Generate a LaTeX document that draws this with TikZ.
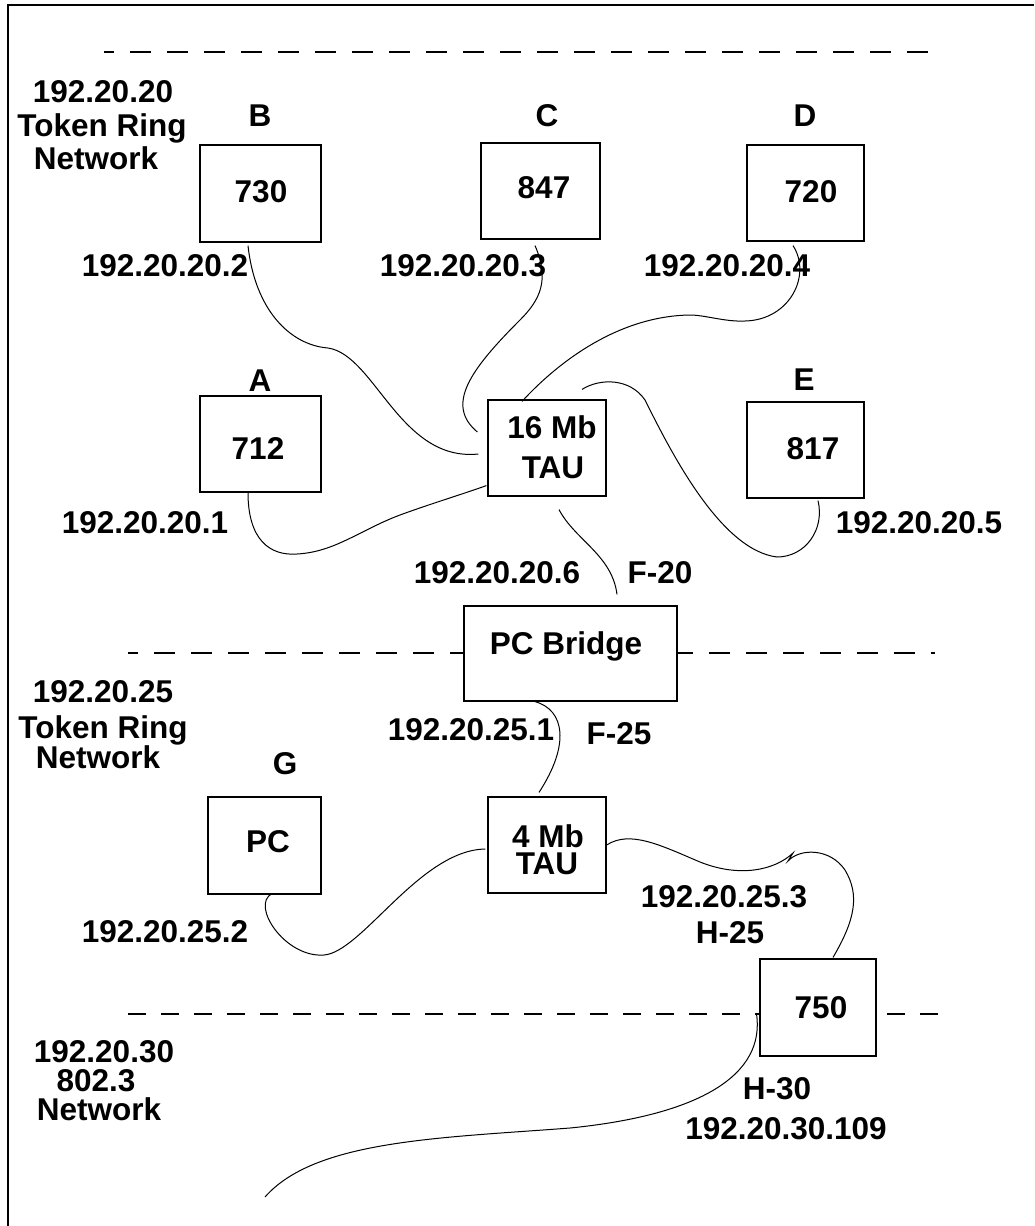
\documentclass[tikz,border=0pt]{standalone}
\usepackage{fontspec}
\setmainfont{Liberation Sans}
\begin{document}
\begin{tikzpicture}[x=1pt,y=-1pt,
  box/.style={draw, fill=white, line width=1.2pt, inner sep=0pt},
  lbl/.style={font=\bfseries\fontsize{31.5}{36}\selectfont, inner sep=0pt, text height=22.5pt, text depth=0pt},
  cable/.style={line width=1pt},
  seg/.style={line width=1.3pt, dash pattern=on 21pt off 16pt, dash phase=10.7pt},
  segb/.style={line width=1.3pt, dash pattern=on 18pt off 15pt}]
\useasboundingbox (0,0) rectangle (1034,1226);
% frame
\draw[line width=2pt] (1034,5) -- (8,5) -- (8,1226);
% segment separators
\draw[seg] (104,52) -- (935,52);
\draw[seg] (128,653) -- (935,653);
\draw[segb] (128,1014) -- (950,1014);
% boxes
\node[box, minimum width=121pt, minimum height=97pt] (B) at (260.5,193.5) {};
\node[box, minimum width=119pt, minimum height=96pt] (C) at (540.5,191) {};
\node[box, minimum width=117pt, minimum height=96pt] (D) at (805.5,193) {};
\node[box, minimum width=121pt, minimum height=96pt] (A) at (260.5,444) {};
\node[box, minimum width=118pt, minimum height=96pt] (T16) at (547,448) {};
\node[box, minimum width=117pt, minimum height=96pt] (E) at (805.5,450) {};
\node[box, minimum width=213pt, minimum height=95pt] (PCB) at (570.5,653.5) {};
\node[box, minimum width=113pt, minimum height=97pt] (G) at (264.5,845.5) {};
\node[box, minimum width=118pt, minimum height=96pt] (T4) at (547,845) {};
\node[box, minimum width=116pt, minimum height=97pt] (H) at (818,1007.5) {};
\coordinate (hend) at (265,1197);
% cables
\draw[cable] ([shift={(-12.5,3)}]B.south) .. controls (255,310) and (290,345) .. (328,348)
  .. controls (375,355) and (400,462) .. ([shift={(-9,6)}]T16.west);
\draw[cable] ([shift={(-5.5,6)}]C.south) .. controls (550,280) and (540,300) .. (520,320)
  .. controls (470,370) and (445,405) .. ([shift={(-10,-16)}]T16.west);
\draw[cable] ([shift={(-12.5,4)}]D.south) .. controls (812,275) and (790,320) .. (745,321)
  .. controls (725,322) and (705,315) .. (690,315)
  .. controls (620,316) and (560,360) .. ([shift={(-25,2)}]T16.north);
\draw[cable] ([shift={(35,-10)}]T16.north) .. controls (600,378) and (630,378) .. (645,400)
  .. controls (670,450) and (720,550) .. (777,557)
  .. controls (805,557) and (825,530) .. ([shift={(12.5,2)}]E.south);
\draw[cable] ([shift={(-12.5,0)}]A.south) .. controls (248,540) and (270,556) .. (297,554)
  .. controls (335,552) and (360,530) .. (400,515)
  .. controls (430,504) and (460,495) .. ([shift={(-1,-11)}]T16.south west);
\draw[cable] ([shift={(12,13)}]T16.south) .. controls (575,540) and (612,555) .. ([shift={(46.5,-11)}]PCB.north);
\draw[cable] ([shift={(-35.5,0)}]PCB.south) .. controls (565,710) and (570,745) .. ([shift={(-8,-4)}]T4.north);
\draw[cable] ([shift={(7.5,-1)}]G.south) .. controls (250,905) and (285,958) .. (324,955)
  .. controls (362,952) and (420,850) .. ([shift={(-2,4)}]T4.west);
\draw[cable] (T4.east) .. controls (630,830) and (660,845) .. (700,862)
  .. controls (740,878) and (775,870) .. (793,853) -- (788,861)
  .. controls (800,848) and (830,848) .. (845,870)
  .. controls (860,895) and (855,920) .. ([shift={(15,-1)}]H.north);
\draw[cable] ([shift={(-3,5.5)}]H.west) .. controls (766,1075) and (700,1115) .. (570,1128)
  .. controls (440,1138) and (315,1140) .. (hend);
% labels
\node[lbl] (n1a) at (103,91) {192.20.20};
\node[lbl] (n1b) at (102,125) {Token Ring};
\node[lbl] (n1c) at (96,158) {Network};
\node[lbl] (lB) at (260,115) {B};
\node[lbl] (lC) at (547,115) {C};
\node[lbl] (lD) at (805,115) {D};
\node[lbl] (tB) at (261,191) {730};
\node[lbl] (tC) at (544,187) {847};
\node[lbl] (tD) at (811,191) {720};
\node[lbl] (ipB) at (165,265) {192.20.20.2};
\node[lbl] (ipC) at (463,265) {192.20.20.3};
\node[lbl] (ipD) at (727,265) {192.20.20.4};
\node[lbl] (lA) at (260,380) {A};
\node[lbl] (lE) at (804,379) {E};
\node[lbl] (tA) at (258,448) {712};
\node[lbl] (tT16a) at (552,427) {16 Mb};
\node[lbl] (tT16b) at (553,467) {TAU};
\node[lbl] (tE) at (813,448) {817};
\node[lbl] (ipA) at (145,522) {192.20.20.1};
\node[lbl] (ipE) at (919,522) {192.20.20.5};
\node[lbl] (ipF20) at (497,572) {192.20.20.6};
\node[lbl] (F20) at (660,572) {F-20};
\node[lbl] (tPCB) at (566,643) {PC Bridge};
\node[lbl] (n2a) at (103,691) {192.20.25};
\node[lbl] (n2b) at (103,727) {Token Ring};
\node[lbl] (n2c) at (98,757) {Network};
\node[lbl] (ipF25) at (471,729) {192.20.25.1};
\node[lbl] (F25) at (619,733) {F-25};
\node[lbl] (lG) at (285,763) {G};
\node[lbl] (tG) at (268,841) {PC};
\node[lbl] (tT4a) at (548,836) {4 Mb};
\node[lbl] (tT4b) at (547,863) {TAU};
\node[lbl] (ipH25) at (724,896) {192.20.25.3};
\node[lbl] (H25) at (730,932) {H-25};
\node[lbl] (ipG) at (165,931) {192.20.25.2};
\node[lbl] (tH) at (821,1007) {750};
\node[lbl] (n3a) at (104,1051) {192.20.30};
\node[lbl] (n3b) at (96,1080) {802.3};
\node[lbl] (n3c) at (99,1109) {Network};
\node[lbl] (H30) at (777,1088) {H-30};
\node[lbl] (ipH30) at (786,1128) {192.20.30.109};
\end{tikzpicture}
\end{document}
